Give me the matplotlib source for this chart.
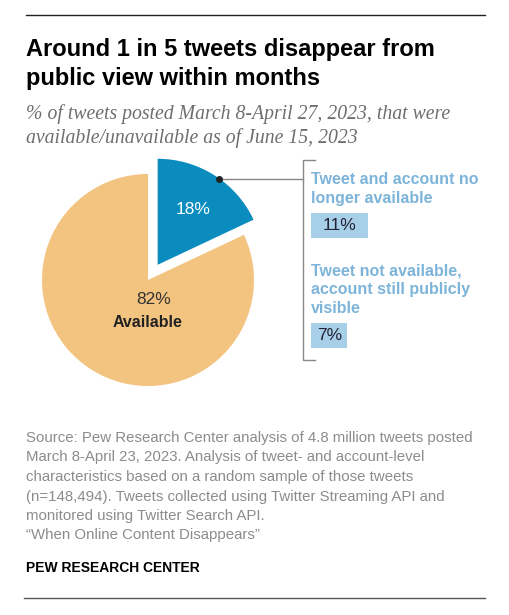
import numpy as np
import matplotlib
matplotlib.use("Agg")
import matplotlib.pyplot as plt

# data
pie_labels = ["Not available", "Available"]
pie_values = [18, 82]
sub_labels = ["Tweet and account no\nlonger available",
              "Tweet not available,\naccount still publicly\nvisible"]
sub_values = [11, 7]

BLUE = "#0A8DBE"
ORANGE = "#F3C380"
LIGHT = "#A8CFE8"
LABEL_BLUE = "#7DB4DA"
GREY = "#8C8C8C"

plt.rcParams['font.family'] = ['Liberation Sans', 'DejaVu Sans']

fig = plt.figure(figsize=(5.1, 6.15), dpi=100)

# pie (center 148,280 px, radius 106 px)
R = 106
ax_pie = fig.add_axes([(148 - 130) / 510, (615 - 280 - 130) / 615, 260 / 510, 260 / 615])
wedges, _ = ax_pie.pie(pie_values, colors=[BLUE, ORANGE], startangle=90, counterclock=False,
                       explode=[0.17, 0], radius=1, wedgeprops=dict(linewidth=0))
lim = 130 / R
ax_pie.set_xlim(-lim, lim)
ax_pie.set_ylim(-lim, lim)
ax_pie.set_aspect('equal')
ax_pie.axis('off')

w0 = wedges[0]
mid = np.deg2rad((w0.theta1 + w0.theta2) / 2)
cx, cy = w0.center
ax_pie.text(cx + 0.62 * np.cos(mid), cy + 0.62 * np.sin(mid), f"{pie_values[0]}%",
            color="white", fontsize=12.5, ha='center', va='center')
ox, oy = wedges[1].center
ax_pie.text(ox + 0.05, oy - 0.18, f"{pie_values[1]}%", color="#333333", fontsize=12.5,
            ha='center', va='center')
ax_pie.text(ox, oy - 0.40, pie_labels[1], color="#222222", fontsize=11.5,
            fontweight='bold', ha='center', va='center')

# overlay in pixel coordinates
ov = fig.add_axes([0, 0, 1, 1])
ov.set_xlim(0, 510)
ov.set_ylim(615, 0)
ov.axis('off')

# rules
ov.plot([26, 485], [15, 15], color="#222222", lw=1)
ov.plot([24, 485], [598, 598], color="#555555", lw=1)

# title, subtitle
ov.text(26, 56, "Around 1 in 5 tweets disappear from", fontsize=17, fontweight='bold',
        color="black", va='baseline')
ov.text(26, 85, "public view within months", fontsize=17, fontweight='bold',
        color="black", va='baseline')
ov.text(26, 119, "% of tweets posted March 8-April 27, 2023, that were",
        family=['Liberation Serif', 'DejaVu Serif'], style='italic', fontsize=14.2,
        color="#6E6E6E", va='baseline')
ov.text(26, 143, "available/unavailable as of June 15, 2023",
        family=['Liberation Serif', 'DejaVu Serif'], style='italic', fontsize=14.2,
        color="#6E6E6E", va='baseline')

# connector dot + line to bracket
ang = np.deg2rad(w0.theta1 + 0.45 * (w0.theta2 - w0.theta1))
dot = ax_pie.transData.transform((cx + np.cos(ang), cy + np.sin(ang)))
dx, dy = ov.transData.inverted().transform(dot)
ov.plot([dx, 303], [dy, dy], color="#888888", lw=1)
ov.plot(dx, dy, 'o', color="#222222", ms=4)

# bracket
ov.plot([315, 303, 303, 315], [160, 160, 360, 360], color="#888888", lw=1)

# sub-bars
ax_bar = fig.add_axes([311 / 510, (615 - 390.5) / 615, 170 / 510, 220 / 615])
ypos = np.arange(len(sub_values))
ax_bar.barh(ypos, sub_values, height=25 / 110, color=LIGHT, align='center')
ax_bar.set_xlim(0, 170 / 5.2)
ax_bar.set_ylim(1.5, -0.5)
ax_bar.axis('off')
for i, (v, lab) in enumerate(zip(sub_values, sub_labels)):
    ax_bar.text(v / 2, i, f"{v}%", ha='center', va='center', fontsize=12.5, color="#222233")
    ax_bar.text(0, i - 25 / 220 - 0.06, lab, ha='left', va='bottom', fontsize=11.5,
                fontweight='bold', color=LABEL_BLUE, linespacing=1.35)

# source
source = ("Source: Pew Research Center analysis of 4.8 million tweets posted\n"
          "March 8-April 23, 2023. Analysis of tweet- and account-level\n"
          "characteristics based on a random sample of those tweets\n"
          "(n=148,494). Tweets collected using Twitter Streaming API and\n"
          "monitored using Twitter Search API.\n"
          "\u201cWhen Online Content Disappears\u201d")
ov.text(26, 431, source, fontsize=10.8, color=GREY, va='top', linespacing=1.5)
ov.text(26, 572, "PEW RESEARCH CENTER", fontsize=10, fontweight='bold', color="black",
        va='baseline')

fig.savefig("out.png", dpi=100)
